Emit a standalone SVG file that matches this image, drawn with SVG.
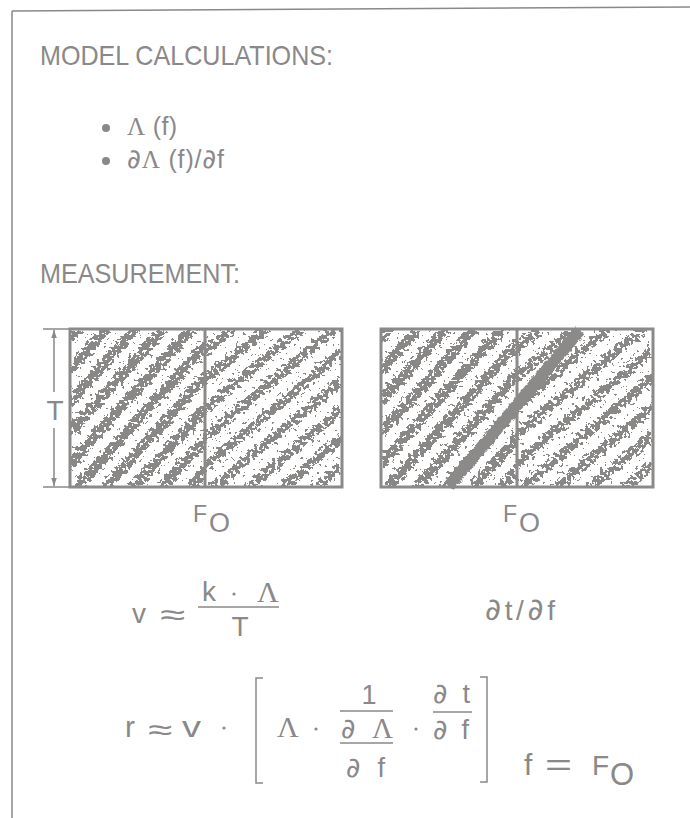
<svg xmlns="http://www.w3.org/2000/svg" width="690" height="818" viewBox="0 0 690 818">
<style>
.t{font-family:"Liberation Sans","Arial",sans-serif;fill:#8a8888}
.s{font-family:"Liberation Serif","Times New Roman",serif;fill:#8a8888}
.d{font-family:"Noto Sans","DejaVu Sans",sans-serif;fill:#8a8888}
.ln{stroke:#8a8888;fill:none}
.box{stroke:#8c8989;stroke-width:3;fill:none}
.dot{fill:#8a8888}
</style>
<defs>
<pattern id="stripeA" patternUnits="userSpaceOnUse" width="21" height="21" patternTransform="rotate(42)">
<rect width="21" height="21" fill="#000" fill-opacity="0.08"/>
<rect width="11" height="21" fill="#000"/>
</pattern>
<pattern id="stripeB" patternUnits="userSpaceOnUse" width="22" height="22" patternTransform="rotate(50)">
<rect width="22" height="22" fill="#000" fill-opacity="0.12"/>
<rect width="10" height="22" fill="#000" fill-opacity="0.9"/>
</pattern>
<filter id="stip" x="0" y="0" width="1" height="1" color-interpolation-filters="sRGB">
<feGaussianBlur in="SourceAlpha" stdDeviation="2" result="b"/>
<feTurbulence type="fractalNoise" baseFrequency="0.28" numOctaves="3" seed="11" result="t"/>
<feColorMatrix in="t" type="matrix" values="0 0 0 0 0  0 0 0 0 0  0 0 0 0 0  1 0 0 0 0" result="n"/>
<feComposite in="b" in2="n" operator="arithmetic" k1="0" k2="1" k3="2.2" k4="-1.25" result="s"/>
<feComponentTransfer in="s" result="th"><feFuncA type="discrete" tableValues="0 0 1 1"/></feComponentTransfer>
<feFlood flood-color="#8a8787"/>
<feComposite in2="th" operator="in"/>
</filter>
<filter id="rough" x="-0.1" y="-0.1" width="1.2" height="1.2">
<feTurbulence type="fractalNoise" baseFrequency="0.3" numOctaves="2" seed="3" result="t"/>
<feDisplacementMap in="SourceGraphic" in2="t" scale="4" xChannelSelector="R" yChannelSelector="G"/>
</filter>
<marker id="ah" viewBox="0 0 10 10" refX="10" refY="5" markerWidth="8" markerHeight="10" orient="auto-start-reverse" markerUnits="userSpaceOnUse">
<path d="M0,1.5 L10,5 L0,8.5 Z" fill="#8a8888"/>
</marker>
</defs>
<rect width="690" height="818" fill="#fff"/>
<g id="frame" class="ln" stroke-width="1.5">
<path d="M12,11 L690,7"/>
<path d="M12,11 L12,818"/>
</g>

<g id="model-calculations">
<text class="t" x="40" y="65" font-size="28" textLength="293" lengthAdjust="spacingAndGlyphs">MODEL CALCULATIONS:</text>
<circle class="dot" cx="106" cy="128" r="4"/>
<text x="127" y="135" font-size="25" textLength="50" lengthAdjust="spacing"><tspan class="s">Λ</tspan><tspan class="t"> (f)</tspan></text>
<circle class="dot" cx="106" cy="161" r="4"/>
<text x="127" y="168" font-size="25" textLength="97" lengthAdjust="spacing"><tspan class="d" font-size="27">∂</tspan><tspan class="s">Λ</tspan><tspan class="t"> (f)/</tspan><tspan class="d" font-size="27">∂</tspan><tspan class="t">f</tspan></text>
</g>

<g id="measurement">
<text class="t" x="40" y="283" font-size="28" textLength="200" lengthAdjust="spacingAndGlyphs">MEASUREMENT:</text>
</g>

<g id="plot-left">
<g filter="url(#stip)">
<rect x="70" y="329" width="135" height="158" fill="url(#stripeA)"/>
<rect x="205" y="329" width="137" height="158" fill="url(#stripeB)"/>
</g>
<rect class="box" x="70" y="329" width="272" height="158"/>
<line class="box" x1="205" y1="329" x2="205" y2="487"/>
<text class="t" x="193" y="522" font-size="23">F<tspan x="209" dy="10" font-size="27">O</tspan></text>
</g>

<g id="dimension-T">
<line class="ln" stroke-width="1.5" x1="43" y1="329" x2="70" y2="329"/>
<line class="ln" stroke-width="1.5" x1="43" y1="487" x2="70" y2="487"/>
<line class="ln" stroke-width="1.5" x1="54" y1="392" x2="54" y2="330" marker-end="url(#ah)"/>
<line class="ln" stroke-width="1.5" x1="54" y1="428" x2="54" y2="486" marker-end="url(#ah)"/>
<text class="t" x="55" y="420" font-size="28" text-anchor="middle">T</text>
</g>

<g id="plot-right">
<g filter="url(#stip)">
<rect x="381" y="329" width="136" height="158" fill="url(#stripeA)"/>
<rect x="517" y="329" width="136" height="158" fill="url(#stripeB)"/>
</g>
<line x1="449" y1="486" x2="580" y2="330" stroke="#8c8989" stroke-width="12" filter="url(#rough)"/>
<rect class="box" x="381" y="329" width="272" height="158"/>
<line class="box" x1="517" y1="329" x2="517" y2="487"/>
<text class="t" x="503" y="522" font-size="23">F<tspan x="519" dy="10" font-size="27">O</tspan></text>
</g>

<g id="eq-v">
<text class="t" x="132" y="623" font-size="28">v</text>
<text class="t" x="160" y="625" font-size="30" textLength="25" lengthAdjust="spacingAndGlyphs">≈</text>
<text class="t" x="202" y="601" font-size="28">k</text>
<circle class="dot" cx="234" cy="594" r="1.6"/>
<text class="s" x="257" y="602" font-size="30">Λ</text>
<line class="ln" stroke-width="1.5" x1="198" y1="607" x2="279" y2="607"/>
<text class="t" x="240" y="636" font-size="28" text-anchor="middle">T</text>
</g>

<g id="eq-dtdf">
<text x="485" y="620" font-size="28" textLength="70" lengthAdjust="spacing"><tspan class="d" font-size="31">∂</tspan><tspan class="t">t/</tspan><tspan class="d" font-size="31">∂</tspan><tspan class="t">f</tspan></text>
</g>

<g id="eq-r">
<text class="t" x="125" y="737" font-size="30">r</text>
<text class="t" x="148" y="740" font-size="30" textLength="24" lengthAdjust="spacingAndGlyphs">≈</text>
<text class="t" x="182" y="737" font-size="29" textLength="19" lengthAdjust="spacingAndGlyphs">v</text>
<circle class="dot" cx="224" cy="728" r="1.6"/>
<path class="ln" stroke-width="1.5" d="M263,678 H256 V783 H263"/>
<path class="ln" stroke-width="1.5" d="M480,677 H487 V782 H480"/>
<text class="s" x="277" y="737" font-size="30">Λ</text>
<circle class="dot" cx="316" cy="729" r="1.6"/>
<text class="t" x="369" y="704" font-size="27" text-anchor="middle">1</text>
<line class="ln" stroke-width="1.5" x1="340" y1="711" x2="393" y2="711"/>
<text x="341" y="738" font-size="27" textLength="52" lengthAdjust="spacing"><tspan class="d" font-size="28">∂</tspan><tspan class="t"> </tspan><tspan class="s" font-size="29">Λ</tspan></text>
<line class="ln" stroke-width="1.5" x1="340" y1="743" x2="393" y2="743"/>
<text x="346" y="777" font-size="27" textLength="39" lengthAdjust="spacing"><tspan class="d" font-size="28">∂</tspan><tspan class="t"> f</tspan></text>
<circle class="dot" cx="416" cy="729" r="1.6"/>
<text x="433" y="703" font-size="27" textLength="37" lengthAdjust="spacing"><tspan class="d" font-size="28">∂</tspan><tspan class="t"> t</tspan></text>
<line class="ln" stroke-width="1.5" x1="433" y1="712" x2="472" y2="712"/>
<text x="433" y="739" font-size="27" textLength="36" lengthAdjust="spacing"><tspan class="d" font-size="28">∂</tspan><tspan class="t"> f</tspan></text>
<text class="t" x="524" y="775" font-size="30">f</text>
<text class="t" x="545" y="775" font-size="30" textLength="27" lengthAdjust="spacingAndGlyphs">=</text>
<text class="t" x="592" y="775" font-size="28">F<tspan x="610" dy="10" font-size="31">O</tspan></text>
</g>
</svg>
